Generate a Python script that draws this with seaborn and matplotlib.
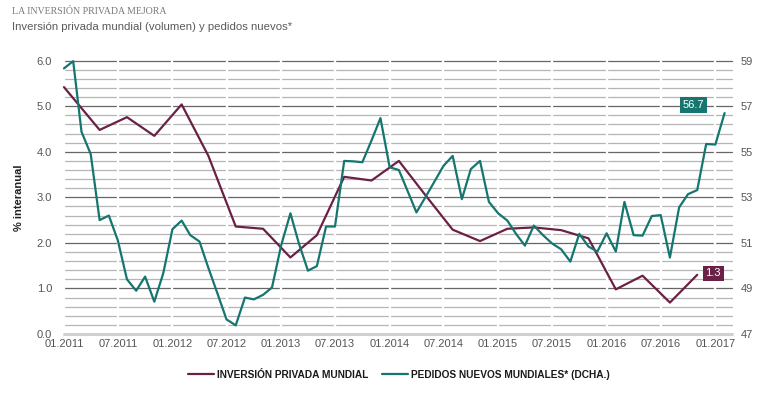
import matplotlib
matplotlib.use("Agg")
import matplotlib.pyplot as plt
import matplotlib.dates as mdates
from matplotlib.lines import Line2D
import numpy as np
import pandas as pd
import seaborn as sns

# ---------------- data ----------------
title = "LA INVERSIÓN PRIVADA MEJORA"
subtitle = "Inversión privada mundial (volumen) y pedidos nuevos*"
ylabel_left = "% interanual"
inv_label = "INVERSIÓN PRIVADA MUNDIAL"
ped_label = "PEDIDOS NUEVOS MUNDIALES* (DCHA.)"

# monthly new orders index (right axis), 01.2011 .. 02.2017
pedidos_start = "2011-01-01"
pedidos = [58.66, 58.98, 55.88, 54.90, 52.00, 52.20, 51.12, 49.40, 48.90, 49.52,
           48.42, 49.66, 51.60, 51.98, 51.34, 51.06, 49.90, 48.76, 47.64, 47.38,
           48.60, 48.52, 48.72, 49.04, 50.90, 52.30, 51.00, 49.78, 49.98, 51.72,
           51.72, 54.60, 54.58, 54.54, 55.50, 56.48, 54.32, 54.20, 53.32, 52.34,
           53.00, 53.70, 54.38, 54.82, 52.92, 54.24, 54.60, 52.80, 52.30, 51.98,
           51.42, 50.88, 51.76, 51.34, 50.98, 50.72, 50.18, 51.40, 50.84, 50.62,
           51.42, 50.62, 52.80, 51.34, 51.32, 52.18, 52.22, 50.36, 52.56, 53.14,
           53.32, 55.34, 55.32, 56.70]

# quarterly private investment, % y/y (left axis)
inv_dates = ["2011-01", "2011-05", "2011-08", "2011-11", "2012-02", "2012-05",
             "2012-08", "2012-11", "2013-02", "2013-05", "2013-08", "2013-11",
             "2014-02", "2014-05", "2014-08", "2014-11", "2015-02", "2015-05",
             "2015-08", "2015-11", "2016-02", "2016-05", "2016-08", "2016-11"]
inversion = [5.42, 4.48, 4.76, 4.35, 5.04, 3.91, 2.36, 2.31, 1.68, 2.17, 3.45, 3.37,
             3.80, 3.05, 2.29, 2.04, 2.31, 2.34, 2.28, 2.10, 0.98, 1.28, 0.69, 1.30]

left_ticks = [0.0, 1.0, 2.0, 3.0, 4.0, 5.0, 6.0]
right_ticks = [47, 49, 51, 53, 55, 57, 59]
x_ticks = ["2011-01", "2011-07", "2012-01", "2012-07", "2013-01", "2013-07",
           "2014-01", "2014-07", "2015-01", "2015-07", "2016-01", "2016-07", "2017-01"]
last_ped_label = "56.7"
last_inv_label = "1.3"

# ---------------- styling ----------------
maroon = "#6a2145"
teal = "#14766f"

sns.set_theme(style="white")
plt.rcParams["font.family"] = ["Liberation Sans", "DejaVu Sans"]

df_ped = pd.DataFrame({
    "fecha": pd.date_range(pedidos_start, periods=len(pedidos), freq="MS"),
    "valor": pedidos,
})
df_inv = pd.DataFrame({"fecha": pd.to_datetime(inv_dates), "valor": inversion})

fig = plt.figure(figsize=(7.67, 3.98), dpi=100)
ax = fig.add_axes([0.0834, 0.1608, 0.8706, 0.6867])
ax2 = ax.twinx()

xmin = pd.Timestamp("2011-01-01")
xmax = pd.Timestamp("2017-02-25")

# grid
ax.set_ylim(0, 6)
ax.set_yticks(left_ticks)
ax.grid(False)
for v in np.arange(0.2, 6.01, 0.2):
    isMajor = abs(v - round(v)) < 1e-6
    ax.axhline(v, color="#666666" if isMajor else "#b5b5b5", lw=0.9, zorder=1)
ax.axhline(0, color="#d0d0d0", lw=2.2, zorder=1)
for t in x_ticks:
    ax.axvline(pd.Timestamp(t), ymin=0.012, ymax=1.0, color="white", lw=1.7, zorder=2)

sns.lineplot(data=df_inv, x="fecha", y="valor", ax=ax, color=maroon, lw=1.6,
             zorder=5, legend=False)
sns.lineplot(data=df_ped, x="fecha", y="valor", ax=ax2, color=teal, lw=1.6,
             zorder=5, legend=False)
for l in ax.lines + ax2.lines:
    l.set_clip_on(False)

ax.set_xlim(xmin, xmax)
ax2.set_xlim(xmin, xmax)
ax2.set_ylim(47, 59)
ax2.set_yticks(right_ticks)
ax2.grid(False)

ax.set_xticks([pd.Timestamp(t) for t in x_ticks])
ax.xaxis.set_major_formatter(mdates.DateFormatter("%m.%Y"))
ax.set_yticklabels([f"{v:.1f}" for v in left_ticks])
ax.set_xlabel("")
ax.set_ylabel(ylabel_left, fontsize=8, fontweight="bold", color="#222222", labelpad=9)
ax2.set_ylabel("")

ax.tick_params(axis="y", which="both", length=0, pad=8.5, labelsize=8, labelcolor="#555555")
ax.tick_params(axis="x", length=0, pad=3.5, labelsize=8, labelcolor="#555555")
ax2.tick_params(axis="y", length=0, pad=6.5, labelsize=8, labelcolor="#555555")
for a in (ax, ax2):
    for s in a.spines.values():
        s.set_visible(False)

# end labels
ax2.text(pd.Timestamp("2016-10-20"), 57.05, last_ped_label, color="white", fontsize=8,
         ha="center", va="center", zorder=10,
         bbox=dict(boxstyle="square,pad=0.25", fc=teal, ec="none"))
ax.text(pd.Timestamp("2016-12-25"), 1.33, last_inv_label, color="white", fontsize=8,
        ha="center", va="center", zorder=10,
        bbox=dict(boxstyle="square,pad=0.25", fc=maroon, ec="none"))

# titles
fig.text(12 / 767, 1 - 12 / 398, title, family=["Liberation Serif", "DejaVu Serif"],
         fontsize=7.1, color="#7a7a7a", ha="left", va="center")
fig.text(12 / 767, 1 - 27 / 398, subtitle, fontsize=8.2, color="#5a5a5a",
         ha="left", va="center")

# legend
handles = [Line2D([], [], color=maroon, lw=1.6), Line2D([], [], color=teal, lw=1.6)]
leg = fig.legend(handles, [inv_label, ped_label], ncol=2, loc="center",
                 bbox_to_anchor=(399 / 767, 1 - 375 / 398), frameon=False,
                 handlelength=2.6, handletextpad=0.3, columnspacing=1.3,
                 prop={"size": 7.3, "weight": "bold"})
for t in leg.get_texts():
    t.set_color("#1a1a1a")

fig.savefig("out.png", dpi=100)
